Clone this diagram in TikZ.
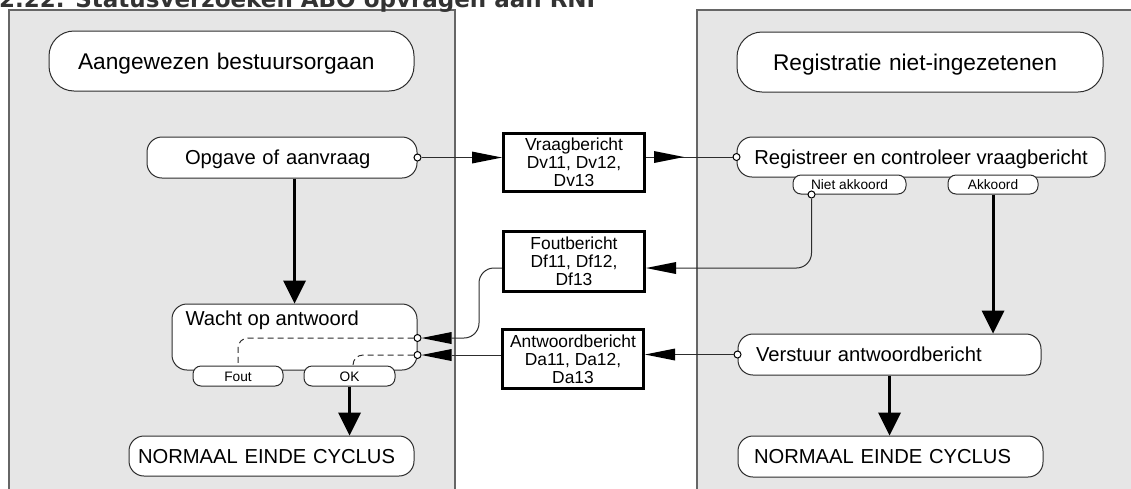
\documentclass[tikz,border=0pt]{standalone}
\usepackage{fontspec}
\setmainfont{Liberation Sans}
\newfontfamily\titlefont{DejaVu Sans}
\usetikzlibrary{arrows.meta,decorations.markings}
\definecolor{lanegray}{RGB}{230,230,230}
\definecolor{linegray}{RGB}{45,45,45}

\begin{document}
\begin{tikzpicture}[x=1pt,y=-1pt,
	lane/.style={fill=lanegray,draw=black!60,line width=1.5pt},
	hdrbox/.style={draw=linegray,fill=white,line width=1pt,rounded corners=25pt,align=left,inner ysep=0pt,minimum height=60pt,text height=17pt,text depth=0pt,font=\fontsize{22.7}{26}\selectfont},
	procbox/.style={draw=linegray,fill=white,line width=1pt,rounded corners=15pt,align=left,inner ysep=0pt,text height=14.5pt,text depth=0pt,font=\fontsize{20.2}{24}\selectfont},
	tabbox/.style={draw=linegray,fill=white,line width=1pt,rounded corners=8pt,inner sep=0pt,minimum height=19pt,text height=10pt,text depth=0pt,font=\fontsize{13.7}{16}\selectfont},
	msgbox/.style={draw,fill=white,line width=3pt,align=center,inner sep=0pt,minimum width=141pt,font=\fontsize{17.4}{18}\selectfont},
	port/.style={circle,draw,fill=white,line width=1pt,inner sep=0pt,minimum size=7pt},
	msgline/.style={draw=linegray,line width=1pt,-{Triangle[length=30pt,width=12pt,line width=0pt,color=black]}},
	msgmid/.style={draw=linegray,line width=1pt,postaction={decorate},decoration={markings,mark=at position 38pt with {\arrow{Triangle[length=30pt,width=12pt,line width=0pt,color=black]}}}},
	flowline/.style={line width=3pt,-{Triangle[length=23pt,width=23pt,line width=0pt]}},
	waitline/.style={draw=linegray,line width=1pt,dash pattern=on 6pt off 4pt,rounded corners=10pt}
]
	\useasboundingbox (0,0) rectangle (1131,488);
	\clip (0,0) rectangle (1131,488);
	\draw[lane] (9,10) rectangle (455,500);
	\draw[lane] (697,10) rectangle (1140,500);
	\node[anchor=base west,inner sep=0pt,text=black!80,font={\titlefont\bfseries\fontsize{23}{28}\selectfont}] (title) at (-1,7) {2.22. Statusverzoeken ABO opvragen aan RNI};

	\node[hdrbox,inner xsep=29pt,text width=307pt] (organ) at (231.5,61) {Aangewezen bestuursorgaan};
	\node[hdrbox,inner xsep=36pt,text width=294pt] (rni) at (920,62) {Registratie niet-ingezetenen};

	\node[procbox,inner xsep=38pt,text width=194pt,minimum height=41pt] (opgave) at (282,157.5) {Opgave of aanvraag};
	\node[procbox,minimum width=245pt,minimum height=66pt] (wacht) at (294.5,337) {};
	\node[procbox,anchor=base west,draw=none,fill=none,inner sep=0pt] (wachttxt) at (185,325) {Wacht op antwoord};
	\node[tabbox,minimum width=90pt,minimum height=20pt] (fouttab) at (238,376) {Fout};
	\node[tabbox,minimum width=91pt,minimum height=20pt] (oktab) at (349.5,376) {OK};
	\node[procbox,inner xsep=9pt,text width=267pt,minimum height=40pt] (eindeL) at (271.5,456) {NORMAAL EINDE CYCLUS};

	\node[procbox,minimum width=368pt,minimum height=40pt] (registreer) at (921,157) {Registreer en controleer vraagbericht};
	\node[tabbox,minimum width=113pt] (nakTab) at (849.5,184.5) {Niet akkoord};
	\node[tabbox,minimum width=90pt] (akTab) at (993,184.5) {Akkoord};
	\node[procbox,inner xsep=18pt,text width=267pt,minimum height=41pt] (verstuur) at (889.5,354.5) {Verstuur antwoordbericht};
	\node[procbox,inner xsep=16pt,text width=273pt,minimum height=41pt] (eindeR) at (890.5,456.5) {NORMAAL EINDE CYCLUS};

	\node[msgbox,minimum height=58pt] (vraag) at (574,162.5) {Vraagbericht\\Dv11, Dv12,\\Dv13};
	\node[msgbox,minimum height=60pt] (foutb) at (574,261.5) {Foutbericht\\Df11, Df12,\\Df13};
	\node[msgbox,minimum height=59pt] (antw) at (573,359) {Antwoordbericht\\Da11, Da12,\\Da13};

	\node[port] (opgP) at (opgave.east) {};
	\node[port] (regP) at (registreer.west) {};
	\node[port] (nakP) at ([xshift=19pt]nakTab.south west) {};
	\node[port] (wP1) at ([yshift=-1pt]wacht.east) {};
	\node[port] (wP2) at ([yshift=-18pt]wacht.east) {};
	\node[port] (verP) at (verstuur.west) {};

	\draw[msgline] (opgP) -- (vraag.west |- opgP);
	\draw[msgmid] (vraag.east |- regP) -- (regP);
	\draw[msgline,rounded corners=15pt] (nakP) |- ([yshift=-6.5pt]foutb.east);
	\draw[msgline,rounded corners=15pt] ([yshift=-6.5pt]foutb.west) -- ++(-23,0) |- (wP1);
	\draw[msgline] (verP) -- (antw.east |- verP);
	\draw[msgline] (antw.west |- wP2) -- (wP2);
	\draw[waitline] (wP1) -| (fouttab.north);
	\draw[waitline] (wP2) -| ([xshift=3.5pt]oktab.north);

	\draw[flowline] (opgave.south -| wacht.north) -- (wacht.north);
	\draw[flowline] (oktab.south) -- (oktab.south |- eindeL.north);
	\draw[flowline] (akTab.south) -- (akTab.south |- verstuur.north);
	\draw[flowline] (verstuur.south) -- (verstuur.south |- eindeR.north);
\end{tikzpicture}
\end{document}
